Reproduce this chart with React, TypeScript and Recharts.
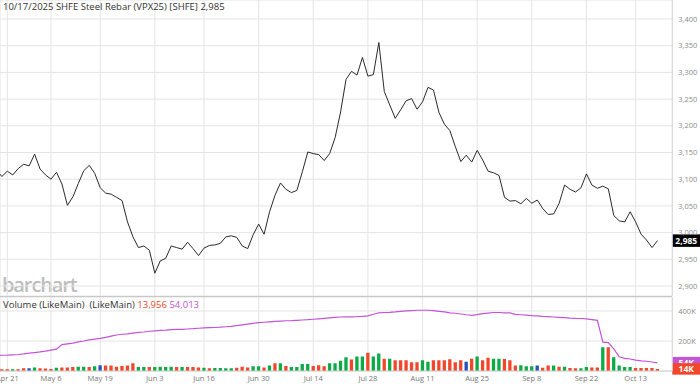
import React from 'react';
import { ComposedChart, Line, Bar, XAxis, YAxis, CartesianGrid, Cell, ReferenceLine } from 'recharts';

// ---- trading days (SHFE) ----
const aprDays = [17, 18, 21, 22, 23, 24, 25, 28, 29, 30];
const mayDays = [6, 7, 8, 9, 12, 13, 14, 15, 16, 19, 20, 21, 22, 23, 26, 27, 28, 29, 30];
const junDays = [3, 4, 5, 6, 9, 10, 11, 12, 13, 16, 17, 18, 19, 20, 23, 24, 25, 26, 27, 30];
const julDays = [1, 2, 3, 4, 7, 8, 9, 10, 11, 14, 15, 16, 17, 18, 21, 22, 23, 24, 25, 28, 29, 30, 31];
const augDays = [1, 4, 5, 6, 7, 8, 11, 12, 13, 14, 15, 18, 19, 20, 21, 22, 25, 26, 27, 28, 29];
const sepDays = [1, 2, 3, 4, 5, 8, 9, 10, 11, 12, 15, 16, 17, 18, 19, 22, 23, 24, 25, 26, 29, 30];
const octDays = [9, 10, 13, 14, 15, 16, 17];

const dates: string[] = [
  ...aprDays.map((d) => `Apr ${d}`),
  ...mayDays.map((d) => `May ${d}`),
  ...junDays.map((d) => `Jun ${d}`),
  ...julDays.map((d) => `Jul ${d}`),
  ...augDays.map((d) => `Aug ${d}`),
  ...sepDays.map((d) => `Sep ${d}`),
  ...octDays.map((d) => `Oct ${d}`),
];

// ---- close prices (VPX25) ----
const aprClose = [3118, 3105, 3115, 3108, 3120, 3128, 3125, 3147, 3119, 3108];
const mayClose = [3100, 3113, 3091, 3051, 3067, 3092, 3116, 3126, 3111, 3084, 3074, 3072, 3066, 3060, 3020, 2992, 2972, 2975, 2967];
const junClose = [2924, 2947, 2952, 2975, 2972, 2969, 2982, 2970, 2957, 2971, 2976, 2977, 2980, 2992, 2994, 2991, 2975, 2970, 2996, 3016];
const julClose = [2997, 3039, 3070, 3093, 3081, 3075, 3079, 3114, 3151, 3148, 3146, 3135, 3148, 3178, 3226, 3287, 3302, 3295, 3328, 3293, 3296, 3356, 3264];
const augClose = [3239, 3214, 3230, 3247, 3251, 3231, 3245, 3272, 3267, 3225, 3203, 3191, 3161, 3133, 3145, 3132, 3154, 3136, 3115, 3112, 3107];
const sepClose = [3066, 3059, 3060, 3054, 3064, 3055, 3061, 3045, 3034, 3035, 3055, 3089, 3081, 3076, 3084, 3110, 3089, 3083, 3087, 3082, 3032, 3022];
const octClose = [3020, 3039, 3020, 2997, 2986, 2972, 2985];

// ---- volume (LikeMain), thousands ----
const aprVol = [11, 11, 11, 11, 11, 18, 18, 24, 18, 16];
const mayVol = [13, 22, 24, 24, 27, 29, 29, 27, 31, 38, 36, 36, 29, 33, 36, 51, 27, 27, 27];
const junVol = [27, 29, 27, 29, 27, 27, 27, 27, 24, 22, 18, 20, 20, 18, 18, 22, 29, 24, 31, 31];
const julVol = [24, 36, 51, 51, 33, 27, 27, 47, 47, 33, 38, 31, 51, 51, 69, 91, 76, 96, 96, 122, 96, 116, 82];
const augVol = [82, 71, 71, 71, 58, 58, 71, 62, 71, 71, 71, 78, 58, 71, 62, 82, 96, 71, 89, 82, 82];
const sepVol = [80, 71, 36, 38, 31, 31, 36, 22, 36, 36, 29, 29, 20, 18, 18, 27, 24, 24, 158, 158, 91, 36];
const octVol = [27, 27, 20, 20, 20, 20, 13.956];

// bar colour: u = up, d = down, n = unchanged
const volDir = 'd ddudd nuddd udddu udund ddddd uuduu uudud ddudu uuudd duudu duduu uuddd uuuud uuduu duddd dduud ddddd ndudd uuddd uuund dudud duudd uduuu udddd d'.replace(/ /g, '');

// ---- open interest (LikeMain), thousands ----
const aprOI = [104, 105, 106, 108, 110, 114, 119, 123, 127, 132];
const mayOI = [139, 146, 176, 181, 186, 194, 200, 208, 213, 218, 224, 233, 240, 245, 248, 253, 257, 260, 265];
const junOI = [268, 271, 273, 276, 277, 278, 280, 282, 285, 287, 289, 290, 292, 295, 297, 302, 308, 313, 318, 322];
const julOI = [325, 328, 331, 333, 335, 336, 338, 340, 342, 345, 348, 351, 354, 357, 360, 361, 361, 362, 364, 367, 378, 388, 390];
const augOI = [391, 394, 398, 401, 403, 405, 405, 405, 402, 398, 394, 388, 385, 380, 375, 371, 376, 382, 386, 390, 390];
const sepOI = [388, 387, 378, 375, 372, 369, 367, 364, 362, 360, 358, 356, 353, 351, 350, 348, 343, 338, 192, 189, 148, 95];
const octOI = [84, 80, 72, 68, 65, 60, 54.013];

const closes = [...aprClose, ...mayClose, ...junClose, ...julClose, ...augClose, ...sepClose, ...octClose];
const volumes = [...aprVol, ...mayVol, ...junVol, ...julVol, ...augVol, ...sepVol, ...octVol];
const openInterest = [...aprOI, ...mayOI, ...junOI, ...julOI, ...augOI, ...sepOI, ...octOI];

const tickLabels = ['Apr 21', 'May 6', 'May 19', 'Jun 3', 'Jun 16', 'Jun 30', 'Jul 14', 'Jul 28', 'Aug 11', 'Aug 25', 'Sep 8', 'Sep 22', 'Oct 13'];
const priceTicks = [2900, 2950, 3000, 3050, 3100, 3150, 3200, 3250, 3300, 3350, 3400];
const volTicks = [200, 400];

const lastPrice = 2985;
const lastVolume = 13.956;
const lastOI = 54.013;

const data = dates.map((d, k) => ({
  k,
  date: d,
  close: closes[k],
  vol: volumes[k],
  oi: openInterest[k],
  dir: volDir[k],
}));
const xTicks = tickLabels.map((l) => dates.indexOf(l));

const X_DOMAIN: [number, number] = [0.663, 123.71];
const P_DOMAIN: [number, number] = [2881.3, 3435.6];
const V_DOMAIN: [number, number] = [0, 493.3];

const FONT = "'Open Sans', sans-serif";
const GRID = '#e4e4e4';
const RED = '#f2472a';
const GREEN = '#0cab48';
const BLUE = '#2552b8';
const PURPLE = '#c254d8';

const dirColor: Record<string, string> = { u: GREEN, d: RED, n: BLUE };

const Badge = (props: any) => {
  const { viewBox, text, fill, h } = props;
  if (!viewBox) return null;
  const x = viewBox.x + viewBox.width;
  const y = viewBox.y;
  return (
    <g>
      <rect x={x} y={y - h / 2} width={28} height={h} fill={fill} />
      <text x={x + 14} y={y + 3} textAnchor="middle" fill="#fff" fontSize={8.5} fontWeight={700} fontFamily={FONT}>
        {text}
      </text>
    </g>
  );
};

const fmtK = (v: number) => `${v}K`;
const fmtPrice = (v: number) => v.toLocaleString('en-US');
const fmtDate = (k: number) => dates[k] ?? '';

export default function App() {
  return (
    <div style={{ position: 'absolute', left: 0, top: 0, width: 700, height: 389, background: '#fff', overflow: 'hidden', fontFamily: FONT }}>
      <div style={{ position: 'absolute', left: 2, top: 273, fontSize: 20, fontWeight: 600, color: '#bdbdbd', letterSpacing: -1.1, lineHeight: '24px' }}>
        barchart
      </div>
      <div style={{ position: 'absolute', left: 0, top: 0 }}>
        <ComposedChart width={700} height={297} data={data} margin={{ top: 0, right: 0, bottom: 1, left: 0 }}>
          <CartesianGrid stroke={GRID} />
          <XAxis type="number" dataKey="k" domain={X_DOMAIN} allowDataOverflow ticks={xTicks} hide />
          <YAxis
            orientation="right"
            width={27.7}
            domain={P_DOMAIN}
            allowDataOverflow
            ticks={priceTicks}
            tickFormatter={fmtPrice}
            axisLine={{ stroke: '#d8d8d8' }}
            tickLine={false}
            tickSize={0}
            tickMargin={6}
            tick={{ fontSize: 7.5, fill: '#8c8c8c', fontFamily: FONT }}
            interval={0}
          />
          <Line type="linear" dataKey="close" stroke="#2a2a2a" strokeWidth={1} dot={false} activeDot={false} isAnimationActive={false} />
          <ReferenceLine y={lastPrice} stroke="none" ifOverflow="visible" label={<Badge text={fmtPrice(lastPrice)} fill="#000" h={12.5} />} />
        </ComposedChart>
      </div>
      <div style={{ position: 'absolute', left: 0, top: 296, width: 672, height: 1, background: '#c8c8c8' }} />
      <div style={{ position: 'absolute', left: 0, top: 297 }}>
        <ComposedChart width={700} height={92} data={data} margin={{ top: 0, right: 0, bottom: 0, left: 0 }}>
          <CartesianGrid stroke={GRID} />
          <XAxis
            type="number"
            dataKey="k"
            domain={X_DOMAIN}
            allowDataOverflow
            ticks={xTicks}
            tickFormatter={fmtDate}
            height={18}
            axisLine={{ stroke: '#d0d0d0' }}
            tickLine={false}
            tickSize={0}
            tickMargin={5}
            interval={0}
            tick={{ fontSize: 7.5, fill: '#777', fontFamily: FONT }}
          />
          <YAxis
            orientation="right"
            width={27.7}
            domain={V_DOMAIN}
            allowDataOverflow
            ticks={volTicks}
            tickFormatter={fmtK}
            axisLine={{ stroke: '#d8d8d8' }}
            tickLine={false}
            tickSize={0}
            tickMargin={6}
            tick={{ fontSize: 7.5, fill: '#8c8c8c', fontFamily: FONT }}
            interval={0}
          />
          <Bar dataKey="vol" barSize={3.3} isAnimationActive={false}>
            {data.map((d) => (
              <Cell key={d.k} fill={dirColor[d.dir]} />
            ))}
          </Bar>
          <Line type="linear" dataKey="oi" stroke={PURPLE} strokeWidth={1.2} dot={false} activeDot={false} isAnimationActive={false} />
          <ReferenceLine y={lastOI} stroke="none" ifOverflow="visible" label={<Badge text={fmtK(Math.round(lastOI))} fill={PURPLE} h={12} />} />
          <ReferenceLine y={lastVolume} stroke="none" ifOverflow="visible" label={<Badge text={fmtK(Math.round(lastVolume))} fill={RED} h={11.5} />} />
        </ComposedChart>
      </div>
      <div style={{ position: 'absolute', left: 3, top: 1, fontSize: 9.5, color: '#333', whiteSpace: 'nowrap', lineHeight: '12px' }}>
        10/17/2025 SHFE Steel Rebar (VPX25) [SHFE] 2,985
      </div>
      <div style={{ position: 'absolute', left: 3, top: 299, fontSize: 9.5, color: '#333', whiteSpace: 'nowrap', lineHeight: '12px' }}>
        Volume (LikeMain)&nbsp; (LikeMain) <span style={{ color: RED }}>13,956</span> <span style={{ color: PURPLE }}>54,013</span>
      </div>
    </div>
  );
}
